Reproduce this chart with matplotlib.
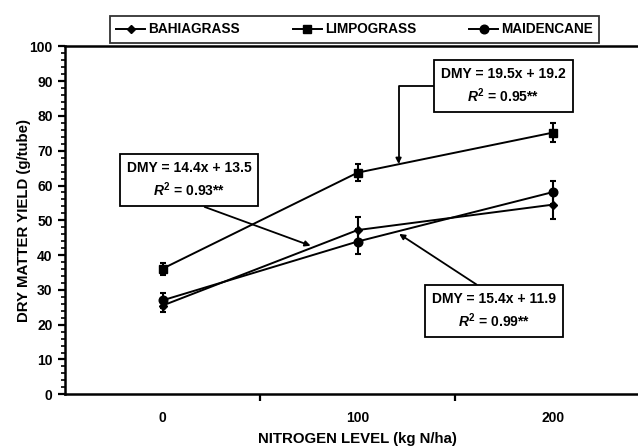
import matplotlib
matplotlib.use('Agg')
import matplotlib.pyplot as plt
from matplotlib.ticker import MultipleLocator, FixedLocator, NullFormatter, FixedFormatter

plt.rcParams['font.family'] = ['Liberation Sans', 'DejaVu Sans']
plt.rcParams['font.weight'] = 'bold'
plt.rcParams['mathtext.fontset'] = 'custom'
plt.rcParams['mathtext.it'] = 'Liberation Sans:italic:bold'
plt.rcParams['mathtext.rm'] = 'Liberation Sans:bold'

# Data
nitrogen = ['0', '100', '200']  # kg N/ha, shown as categories
bahia = [25.5, 47.2, 54.5]
bahia_err = [1.8, 3.8, 4.1]
limpo = [36.1, 63.7, 75.2]
limpo_err = [1.7, 2.5, 2.7]
maiden = [27.0, 43.9, 58.1]
maiden_err = [2.1, 3.7, 3.3]

x = [1, 2, 3]

fig = plt.figure(figsize=(6.38, 4.46), dpi=100)
# axes run a little past the right edge, like the cropped original
ax = fig.add_axes([0.102, 0.116, 0.917, 0.780])

# lines with markers
ax.plot(x, bahia, color='black', lw=1.4, marker='D', ms=4.2, label='BAHIAGRASS')
ax.plot(x, limpo, color='black', lw=1.4, marker='s', ms=5.8, label='LIMPOGRASS')
ax.plot(x, maiden, color='black', lw=1.4, marker='o', ms=6.2, label='MAIDENCANE')

# error bars
for vals, errs in [(bahia, bahia_err), (limpo, limpo_err), (maiden, maiden_err)]:
    ax.errorbar(x, vals, yerr=errs, fmt='none', ecolor='black', elinewidth=1.5,
                capsize=2.5, capthick=1.5)

# axes limits and ticks
ax.set_xlim(0.5, 3.5)
ax.set_ylim(0, 100)
ax.yaxis.set_major_locator(MultipleLocator(10))
ax.yaxis.set_minor_locator(MultipleLocator(2))
ax.xaxis.set_major_locator(FixedLocator([1.5, 2.5, 3.5]))
ax.xaxis.set_major_formatter(NullFormatter())
ax.xaxis.set_minor_locator(FixedLocator(x))
ax.xaxis.set_minor_formatter(FixedFormatter(nitrogen))
ax.tick_params(axis='x', which='major', direction='out', length=5, width=1.6)
ax.tick_params(axis='x', which='minor', length=0, pad=12, labelsize=10)
ax.tick_params(axis='y', which='major', direction='out', length=5, width=1.6, labelsize=10, pad=4)
ax.tick_params(axis='y', which='minor', direction='out', length=3, width=1.2)
for lab in ax.get_xticklabels(minor=True) + ax.get_yticklabels():
    lab.set_fontweight('bold')

for side in ['left', 'bottom', 'top', 'right']:
    ax.spines[side].set_linewidth(1.8)

ax.set_xlabel('NITROGEN LEVEL (kg N/ha)', fontsize=10.8, fontweight='bold', labelpad=5)
ax.set_ylabel('DRY MATTER YIELD (g/tube)', fontsize=10.8, fontweight='bold', labelpad=-1)

# regression equation boxes
box = dict(boxstyle='square,pad=0.5', fc='white', ec='black', lw=1.3)
arrow = dict(arrowstyle='-|>', color='black', lw=1.3, mutation_scale=8, shrinkA=0, shrinkB=0)

ax.annotate('DMY = 19.5x + 19.2\n$R^{2}$ = 0.95**', xy=(2.21, 66.2), xytext=(2.748, 88.5),
            ha='center', va='center', fontsize=10, fontweight='bold', bbox=box,
            linespacing=1.35,
            arrowprops=dict(arrow, connectionstyle='angle,angleA=180,angleB=90,rad=0'))
ax.annotate('DMY = 14.4x + 13.5\n$R^{2}$ = 0.93**', xy=(1.759, 42.7), xytext=(1.135, 61.5),
            ha='center', va='center', fontsize=10, fontweight='bold',
            bbox=dict(box, pad=0.6), linespacing=1.35,
            arrowprops=dict(arrow, relpos=(0.46, 0)))
ax.annotate('DMY = 15.4x + 11.9\n$R^{2}$ = 0.99**', xy=(2.213, 46.1), xytext=(2.701, 23.9),
            ha='center', va='center', fontsize=10, fontweight='bold', bbox=box,
            linespacing=1.35,
            arrowprops=dict(arrow, relpos=(0.45, 1)))

# legend above the plot
leg = fig.legend(loc='center', bbox_to_anchor=(0.556, 0.934), ncol=3, frameon=True,
                 fancybox=False, edgecolor='black', fontsize=9.8, handlelength=2.1,
                 columnspacing=3.9, borderpad=0.45, handletextpad=0.25)
leg.get_frame().set_linewidth(1.3)
for t in leg.get_texts():
    t.set_fontweight('bold')

fig.savefig('out.png', dpi=100)
